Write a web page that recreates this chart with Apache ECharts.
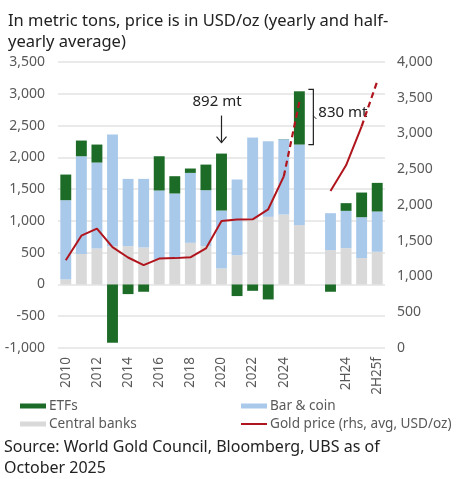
<!DOCTYPE html>
<html>
<head>
<meta charset="utf-8">
<script src="https://cdn.jsdelivr.net/npm/echarts@6/dist/echarts.min.js"></script>
<style>
html,body{margin:0;padding:0;background:#fff;}
#c{width:465px;height:479px;}
</style>
</head>
<body>
<div id="c"></div>
<script>
const categories = ['2010','2011','2012','2013','2014','2015','2016','2017','2018','2019','2020','2021','2022','2023','2024','2025','','1H24','2H24','1H25','2H25f'];
const centralBanks = [79, 480, 566, 600, 603, 582, 400, 400, 655, 600, 252, 460, 1037, 1064, 1100, 933, null, 540, 571, 414, 514];
const barCoin = [1247, 1537, 1352, 1758, 1058, 1079, 1078, 1031, 1100, 883, 911, 1191, 1274, 1189, 1185, 1268, null, 581, 587, 644, 634];
const etfs = [403, 247, 283, -917, -152, -115, 539, 272, 69, 403, 896, -183, -100, -236, 3, 838, null, -115, 121, 388, 450];
const goldAnnual = [1226, 1571, 1669, 1411, 1266, 1160, 1251, 1257, 1268, 1393, 1776, 1797, 1800, 1940, 2400, 3440];
const goldHalf = [2196, 2555, 3100, 3730];
const leftTicks = {min: -1000, max: 3500, interval: 500};
const rightTicks = {min: 0, max: 4000, interval: 500};

const halfStart = 17;
// split gold price into solid / dashed parts
const goldSolidA = categories.map((c, i) => i < goldAnnual.length - 1 ? goldAnnual[i] : null);
const goldDashA = categories.map((c, i) => (i === goldAnnual.length - 2 || i === goldAnnual.length - 1) ? goldAnnual[i] : null);
const goldSolidH = categories.map((c, i) => (i >= halfStart && i < halfStart + goldHalf.length - 1) ? goldHalf[i - halfStart] : null);
const goldDashH = categories.map((c, i) => (i >= halfStart + goldHalf.length - 2 && i < halfStart + goldHalf.length) ? goldHalf[i - halfStart] : null);

const FONT = 'Noto Sans';
const GREEN = '#1c6b27';
const BLUE = '#a9c9ea';
const GREY = '#d9d9d9';
const RED = '#b0151d';
const LABEL = '#595959';
const GOLD_NAME = 'Gold price (rhs, avg, USD/oz)';

const chart = echarts.init(document.getElementById('c'), null, {renderer: 'canvas'});

const lineBase = {
  type: 'line', name: GOLD_NAME, yAxisIndex: 1, symbol: 'none',
  connectNulls: false, z: 5,
  lineStyle: {color: RED, width: 2}, itemStyle: {color: RED}
};

const legendText = {fontFamily: FONT, fontSize: 13.6, color: LABEL, padding: [0, 0, 0, -2]};

const option = {
  animation: false,
  backgroundColor: '#fff',
  textStyle: {fontFamily: FONT},
  title: {
    text: 'In metric tons, price is in USD/oz (yearly and half-\nyearly average)',
    left: 3, top: 6,
    textStyle: {fontFamily: FONT, fontSize: 16.5, fontWeight: 'normal', color: '#222', lineHeight: 21}
  },
  legend: [
    {
      left: 15, top: 394, orient: 'vertical', itemGap: 4, itemWidth: 26, itemHeight: 5,
      textStyle: legendText,
      data: [{name: 'ETFs', icon: 'rect'}, {name: 'Central banks', icon: 'rect'}]
    },
    {
      left: 236, top: 394, orient: 'vertical', itemGap: 4, itemWidth: 26, itemHeight: 5,
      textStyle: legendText,
      data: [{name: 'Bar & coin', icon: 'rect'}, {name: GOLD_NAME, icon: 'path://M0,0 L26,0 L26,2 L0,2 Z'}]
    }
  ],
  grid: {left: 58, right: 80, top: 62, bottom: 131, containLabel: false},
  xAxis: {
    type: 'category', data: categories,
    axisLine: {show: false, onZero: false}, axisTick: {show: false},
    axisLabel: {
      rotate: 90, margin: 9, color: LABEL, fontSize: 13.5, fontFamily: FONT,
      interval: function (i) { return i % 2 === 0; }
    }
  },
  yAxis: [
    {
      type: 'value', min: leftTicks.min, max: leftTicks.max, interval: leftTicks.interval,
      axisLine: {show: false}, axisTick: {show: false},
      axisLabel: {color: LABEL, fontSize: 14, fontFamily: FONT, margin: 13,
        formatter: v => v.toLocaleString('en-US')},
      splitLine: {lineStyle: {color: '#e3e3e3', width: 1.5}}
    },
    {
      type: 'value', min: rightTicks.min, max: rightTicks.max, interval: rightTicks.interval,
      position: 'right',
      axisLine: {show: false}, axisTick: {show: false},
      axisLabel: {color: LABEL, fontSize: 14, fontFamily: FONT, margin: 12,
        formatter: v => v.toLocaleString('en-US')},
      splitLine: {show: false}
    }
  ],
  series: [
    {type: 'bar', name: 'Central banks', stack: 'd', data: centralBanks, barCategoryGap: '30%',
      itemStyle: {color: GREY}},
    {type: 'bar', name: 'Bar & coin', stack: 'd', data: barCoin, itemStyle: {color: BLUE}},
    {type: 'bar', name: 'ETFs', stack: 'd', data: etfs, itemStyle: {color: GREEN}},
    Object.assign({}, lineBase, {data: goldSolidA}),
    Object.assign({}, lineBase, {data: goldDashA, lineStyle: {color: RED, width: 2.2, type: [6, 4]}}),
    Object.assign({}, lineBase, {data: goldSolidH}),
    Object.assign({}, lineBase, {data: goldDashH, lineStyle: {color: RED, width: 2.2, type: [6, 4]}})
  ]
};
chart.setOption(option);

// annotations placed from data via the chart's own scales
function px(catIdx, val) { return chart.convertToPixel({xAxisIndex: 0, yAxisIndex: 0}, [catIdx, val]); }
const i2020 = categories.indexOf('2020');
const i2025 = categories.indexOf('2025');
const top2020 = centralBanks[i2020] + barCoin[i2020] + etfs[i2020];
const p2020 = px(i2020, top2020);
const top2025 = centralBanks[i2025] + barCoin[i2025] + etfs[i2025];
const bot2025 = centralBanks[i2025] + barCoin[i2025];
const pTop = px(i2025, top2025);
const pBot = px(i2025, bot2025);
const bx = pTop[0] + 14;
const ax = p2020[0];
const aEnd = p2020[1] - 11;
const aStart = aEnd - 27;
const midY = (pTop[1] + pBot[1]) / 2 - 2;

chart.setOption({
  graphic: [
    {type: 'text', left: ax - 29, top: aStart - 21, style: {text: '892 mt', fontFamily: FONT, fontSize: 15, fill: '#222'}},
    {type: 'polyline', shape: {points: [[ax, aStart], [ax, aEnd]]}, style: {stroke: '#222', lineWidth: 1.2}},
    {type: 'polyline', shape: {points: [[ax - 5, aEnd - 6], [ax, aEnd], [ax + 5, aEnd - 6]]}, style: {stroke: '#222', lineWidth: 1.2, fill: null}},
    {type: 'polyline', shape: {points: [[bx - 5, pTop[1] - 2], [bx, pTop[1] - 2], [bx, pBot[1]], [bx - 5, pBot[1]]]}, style: {stroke: '#222', lineWidth: 1.2, fill: null}},
    {type: 'polyline', shape: {points: [[bx, midY], [bx + 3, midY + 3]]}, style: {stroke: '#222', lineWidth: 1, fill: null}},
    {type: 'text', left: bx + 5, top: midY - 11, style: {text: '830 mt', fontFamily: FONT, fontSize: 15, fill: '#222'}},
    {type: 'text', left: 4, top: 437, style: {text: 'Source: World Gold Council, Bloomberg, UBS as of\nOctober 2025', fontFamily: FONT, fontSize: 16, lineHeight: 21, fill: '#222'}}
  ]
});
</script>
</body>
</html>
